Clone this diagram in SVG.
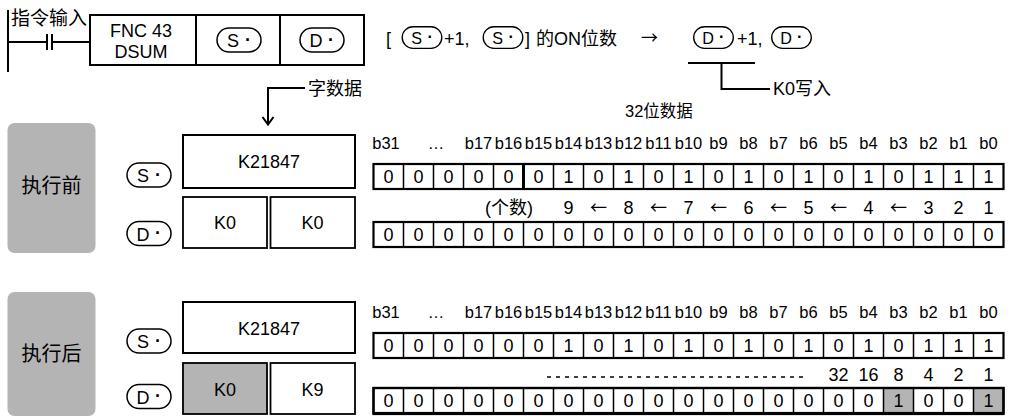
<svg xmlns="http://www.w3.org/2000/svg" xmlns:xlink="http://www.w3.org/1999/xlink" width="1011" height="416" viewBox="0 0 1011 416">
<style>
.t{font-family:"Liberation Sans","Noto Sans CJK SC",sans-serif;font-size:18px;fill:#000}
.h{font-size:16.5px}
.ar{font-family:"Noto Sans CJK SC",sans-serif;font-size:17px}
.cj{font-family:"Noto Sans CJK SC",sans-serif;fill:#000}
.m{text-anchor:middle}
.ln{stroke:#000;stroke-width:2;fill:none}
.thin{stroke:#000;stroke-width:1.5;fill:none}
.box{fill:#fff;stroke:#000;stroke-width:2}
.dbox{fill:#fff;stroke:#000;stroke-width:1.8}
.gbox{fill:#b4b4b4;stroke:#000;stroke-width:1.8}
.g{fill:#b4b4b4}
.pill{fill:#fff;stroke:#000;stroke-width:1.5}
</style>
<defs>
<g id="pS"><rect class="pill" x="-22" y="-12" width="44" height="24" rx="12"/><text class="t m" x="-6" y="7" font-size="19">S</text><text class="t m" x="9" y="5.5" font-weight="bold">·</text></g>
<g id="pD"><rect class="pill" x="-22" y="-12" width="44" height="24" rx="12"/><text class="t m" x="-6" y="7" font-size="19">D</text><text class="t m" x="9" y="5.5" font-weight="bold">·</text></g>
<g id="row"><rect x="373.5" y="0" width="630" height="25" fill="none" stroke="#000" stroke-width="2.2"/><path class="thin" d="M403.5 0v25M433.5 0v25M463.5 0v25M493.5 0v25M523.5 0v25M553.5 0v25M583.5 0v25M613.5 0v25M643.5 0v25M673.5 0v25M703.5 0v25M733.5 0v25M763.5 0v25M793.5 0v25M823.5 0v25M853.5 0v25M883.5 0v25M913.5 0v25M943.5 0v25M973.5 0v25"/></g>
</defs>

<g id="ladder">
<path class="ln" d="M8 10V72M8 42H47M52 42H90M47 34V50M52 34V50"/>
<text class="cj" x="11" y="25" font-size="19">指令输入</text>
</g>

<g id="instruction">
<rect class="box" x="90" y="15" width="274" height="50"/>
<path class="ln" d="M196 15V65M280 15V65"/>
<text class="t m" x="141" y="37">FNC 43</text>
<text class="t m" x="141" y="58">DSUM</text>
<use xlink:href="#pS" x="239" y="40"/>
<use xlink:href="#pD" x="322" y="40"/>
</g>

<g id="expression">
<text class="t" x="386" y="45">[</text>
<use xlink:href="#pS" transform="translate(422 37.5) scale(0.9)"/>
<text class="t" x="444" y="45">+1,</text>
<use xlink:href="#pS" transform="translate(503 37.5) scale(0.9)"/>
<text class="t" x="525" y="45">]</text>
<text class="t" x="536" y="45">的ON位数</text>
<text class="t ar" x="641" y="44">→</text>
<use xlink:href="#pD" transform="translate(713.5 37.5) scale(0.9)"/>
<text class="t" x="737" y="45">+1,</text>
<use xlink:href="#pD" transform="translate(791.5 37.5) scale(0.9)"/>
</g>

<g id="connectors">
<path class="ln" d="M688 63H755M721.5 63V89H770"/>
<path class="ln" d="M268 124V88H305M262.5 117L268 124.5L273.5 117"/>
</g>

<g id="labels">
<text class="t" x="773" y="95">K0写入</text>
<text class="t" x="308" y="95">字数据</text>
<text class="t h" x="625" y="117">32位数据</text>
</g>

<g id="before">
<rect class="g" x="7.5" y="123" width="88" height="130" rx="7"/>
<text class="cj m" x="51.5" y="193" font-size="20">执行前</text>
<use xlink:href="#pS" x="149" y="175"/>
<use xlink:href="#pD" x="149" y="233.5"/>
<rect class="box" x="183" y="135" width="172" height="53"/>
<text class="t m" x="269" y="168">K21847</text>
<rect class="dbox" x="183" y="197" width="84" height="51"/>
<rect class="dbox" x="270.5" y="197" width="84.5" height="51"/>
<text class="t m" x="225" y="229">K0</text>
<text class="t m" x="312.5" y="229">K0</text>
<text class="t h m" y="149"><tspan x="386">b31</tspan><tspan x="436">…</tspan><tspan x="478.5">b17</tspan><tspan x="508.5">b16</tspan><tspan x="538.5">b15</tspan><tspan x="568.5">b14</tspan><tspan x="598.5">b13</tspan><tspan x="628.5">b12</tspan><tspan x="658.5">b11</tspan><tspan x="688.5">b10</tspan><tspan x="718.5">b9</tspan><tspan x="748.5">b8</tspan><tspan x="778.5">b7</tspan><tspan x="808.5">b6</tspan><tspan x="838.5">b5</tspan><tspan x="868.5">b4</tspan><tspan x="898.5">b3</tspan><tspan x="928.5">b2</tspan><tspan x="958.5">b1</tspan><tspan x="988.5">b0</tspan></text>
<use xlink:href="#row" y="164"/>
<path d="M523.5 164V189" stroke="#000" stroke-width="3"/>
<text class="t m" y="183" x="388.5 418.5 448.5 478.5 508.5 538.5 568.5 598.5 628.5 658.5 688.5 718.5 748.5 778.5 808.5 838.5 868.5 898.5 928.5 958.5 988.5">000000101010101010111</text>
<text class="t m" y="214"><tspan x="509">(个数)</tspan><tspan x="568.5">9</tspan><tspan class="ar" x="598.5">←</tspan><tspan x="628.5">8</tspan><tspan class="ar" x="658.5">←</tspan><tspan x="688.5">7</tspan><tspan class="ar" x="718.5">←</tspan><tspan x="748.5">6</tspan><tspan class="ar" x="778.5">←</tspan><tspan x="808.5">5</tspan><tspan class="ar" x="838.5">←</tspan><tspan x="868.5">4</tspan><tspan class="ar" x="898.5">←</tspan><tspan x="928.5">3</tspan><tspan x="958.5">2</tspan><tspan x="988.5">1</tspan></text>
<use xlink:href="#row" y="222"/>
<text class="t m" y="241" x="388.5 418.5 448.5 478.5 508.5 538.5 568.5 598.5 628.5 658.5 688.5 718.5 748.5 778.5 808.5 838.5 868.5 898.5 928.5 958.5 988.5">000000000000000000000</text>
</g>

<g id="after">
<rect class="g" x="7.5" y="292" width="88" height="124" rx="7"/>
<text class="cj m" x="51.5" y="361" font-size="20">执行后</text>
<use xlink:href="#pS" x="149" y="341"/>
<use xlink:href="#pD" x="149" y="396.5"/>
<rect class="box" x="183" y="302" width="172" height="51"/>
<text class="t m" x="269" y="335">K21847</text>
<rect class="gbox" x="183" y="363" width="84" height="51"/>
<rect class="dbox" x="270.5" y="363" width="84.5" height="51"/>
<text class="t m" x="225" y="396">K0</text>
<text class="t m" x="312.5" y="396">K9</text>
<text class="t h m" y="318"><tspan x="386">b31</tspan><tspan x="436">…</tspan><tspan x="478.5">b17</tspan><tspan x="508.5">b16</tspan><tspan x="538.5">b15</tspan><tspan x="568.5">b14</tspan><tspan x="598.5">b13</tspan><tspan x="628.5">b12</tspan><tspan x="658.5">b11</tspan><tspan x="688.5">b10</tspan><tspan x="718.5">b9</tspan><tspan x="748.5">b8</tspan><tspan x="778.5">b7</tspan><tspan x="808.5">b6</tspan><tspan x="838.5">b5</tspan><tspan x="868.5">b4</tspan><tspan x="898.5">b3</tspan><tspan x="928.5">b2</tspan><tspan x="958.5">b1</tspan><tspan x="988.5">b0</tspan></text>
<use xlink:href="#row" y="333"/>
<text class="t m" y="352" x="388.5 418.5 448.5 478.5 508.5 538.5 568.5 598.5 628.5 658.5 688.5 718.5 748.5 778.5 808.5 838.5 868.5 898.5 928.5 958.5 988.5">000000101010101010111</text>
<path d="M547 377H808" stroke="#000" stroke-width="1.5" stroke-dasharray="4 5"/>
<text class="t m" y="381"><tspan x="838.5">32</tspan><tspan x="868.5">16</tspan><tspan x="898.5">8</tspan><tspan x="928.5">4</tspan><tspan x="958.5">2</tspan><tspan x="988.5">1</tspan></text>
<rect class="g" x="883.5" y="388" width="30" height="26"/>
<rect class="g" x="973.5" y="388" width="30" height="26"/>
<rect x="373.5" y="388" width="630" height="26" fill="none" stroke="#000" stroke-width="2.2"/>
<use xlink:href="#row" y="388"/>
<text class="t m" y="407" x="388.5 418.5 448.5 478.5 508.5 538.5 568.5 598.5 628.5 658.5 688.5 718.5 748.5 778.5 808.5 838.5 868.5 898.5 928.5 958.5 988.5">000000000000000001001</text>
</g>
</svg>
